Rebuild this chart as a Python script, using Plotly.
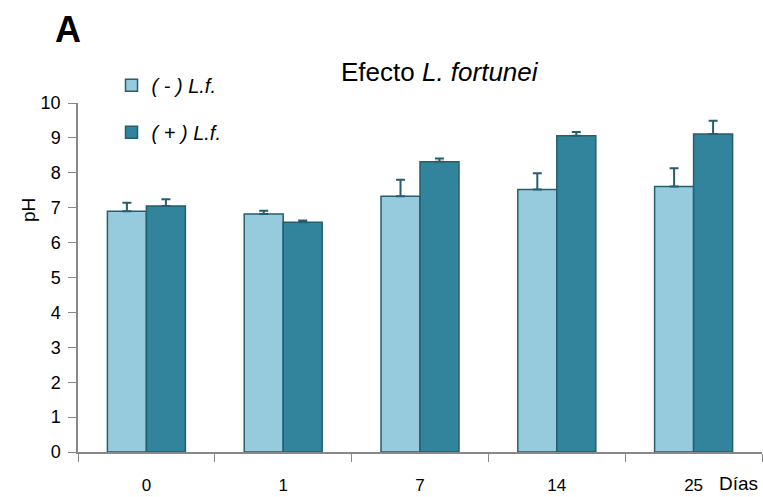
import plotly.graph_objects as go

# pH over time, without and with Limnoperna fortunei
dias = ["0", "1", "7", "14", "25"]
ph_sin = [6.90, 6.82, 7.33, 7.52, 7.61]
err_sin = [0.24, 0.09, 0.47, 0.47, 0.52]
ph_con = [7.05, 6.58, 8.32, 9.06, 9.11]
err_con = [0.19, 0.05, 0.09, 0.11, 0.38]
y_ticks = list(range(0, 11))

FONT = "Liberation Sans, Arial, sans-serif"
LIGHT = "#95CBDC"
DARK = "#31849B"
EDGE = "#245F6E"

fig = go.Figure()
fig.add_trace(go.Bar(
    x=dias, y=ph_sin, name="<i>( - ) L.f.</i>", legendgroup="a",
    marker=dict(color=LIGHT, line=dict(color=EDGE, width=1.5)),
    error_y=dict(type="data", array=err_sin, arrayminus=[0] * len(err_sin), symmetric=False,
                 color=EDGE, thickness=2, width=4.5),
))
fig.add_trace(go.Bar(
    x=dias, y=ph_con, name="<i>( + ) L.f.</i>", legendgroup="b",
    marker=dict(color=DARK, line=dict(color=EDGE, width=1.5)),
    error_y=dict(type="data", array=err_con, arrayminus=[0] * len(err_con), symmetric=False,
                 color=EDGE, thickness=2, width=4.5),
))


def note(text, px, py, size, **kw):
    return dict(text=text, x=(px - 78) / 684, y=(452 - py) / 349, xref="paper", yref="paper",
                xanchor="center", yanchor="middle", showarrow=False, font=dict(size=size), **kw)


fig.update_layout(
    width=763, height=497,
    margin=dict(l=78, r=1, t=103, b=45),
    paper_bgcolor="white", plot_bgcolor="white",
    font=dict(family=FONT, size=17, color="black"),
    barmode="group", bargap=0.43, bargroupgap=0,
    showlegend=True,
    legend=dict(x=0.049, y=1.107, xanchor="left", yanchor="top",
                font=dict(size=20, family=FONT), tracegroupgap=18,
                bgcolor="rgba(0,0,0,0)"),
    xaxis=dict(type="category", tickson="boundaries", ticks="outside", ticklen=8,
               tickcolor="#888888", showline=True, linecolor="#888888", linewidth=1.5,
               showgrid=False, ticklabelstandoff=17, tickfont=dict(size=17), automargin=False),
    yaxis=dict(range=[0, 10], tickvals=y_ticks, ticks="outside", ticklen=8,
               tickcolor="#888888", showline=True, linecolor="#888888", linewidth=1.5,
               showgrid=False, zeroline=False, ticklabelstandoff=4, tickfont=dict(size=18),
               automargin=False),
    annotations=[
        note("Efecto <i>L. fortunei</i>", 440, 72, 26),
        note("<b>A</b>", 68, 30, 36),
        note("pH", 28, 210, 19, textangle=-90),
        note("Días", 738, 483, 19),
    ],
)

fig.write_html("out.html")
